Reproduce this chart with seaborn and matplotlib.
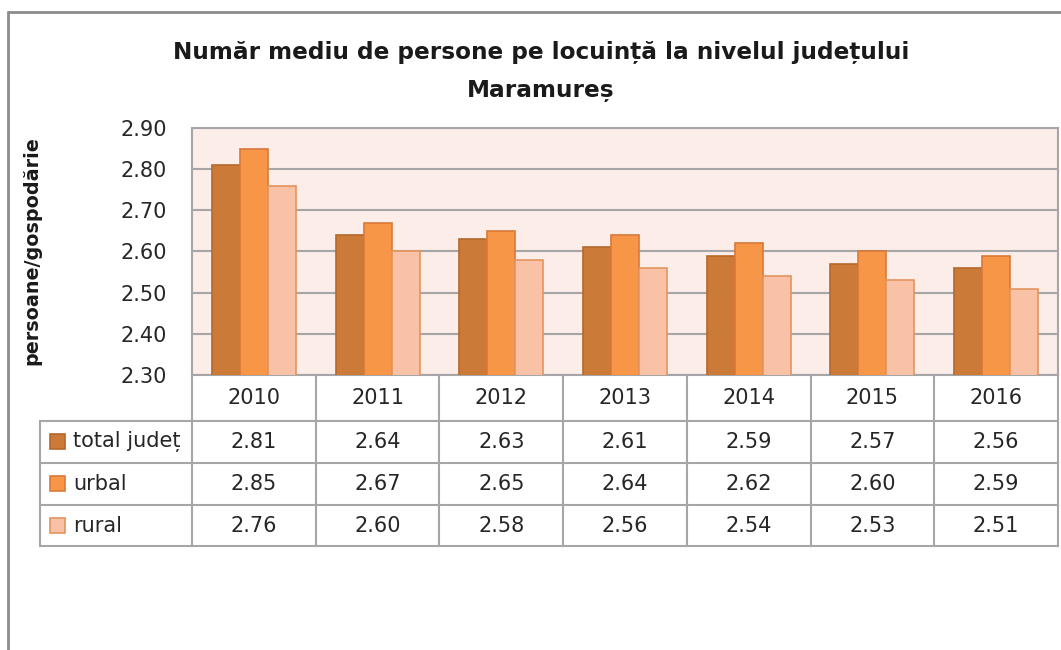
import numpy as np
import pandas as pd
import seaborn as sns
import matplotlib.pyplot as plt
import matplotlib.transforms as mtransforms
from matplotlib.patches import Rectangle

sns.set_theme(style="white")
plt.rcParams['font.family'] = ['DejaVu Sans']

ani = ['2010', '2011', '2012', '2013', '2014', '2015', '2016']
serii = ['total județ', 'urbal', 'rural']
total_judet = [2.81, 2.64, 2.63, 2.61, 2.59, 2.57, 2.56]
urbal = [2.85, 2.67, 2.65, 2.64, 2.62, 2.60, 2.59]
rural = [2.76, 2.60, 2.58, 2.56, 2.54, 2.53, 2.51]

culori = ['#CB7A37', '#F79646', '#F9C1A5']
margini = ['#B5682C', '#D9793A', '#E3955F']

df = pd.DataFrame({
    'an': ani * 3,
    'serie': [s for s in serii for _ in ani],
    'valoare': total_judet + urbal + rural,
})

W, H = 1061, 650
fig = plt.figure(figsize=(W / 100, H / 100), dpi=100)
# zona graficului in pixeli: x 192..1058, y 128..375
ax = fig.add_axes([192 / W, 1 - 375 / H, (1058 - 192) / W, (375 - 128) / H])
ax.set_facecolor('#FCEDE8')

sns.barplot(data=df, x='an', y='valoare', hue='serie', palette=culori, saturation=1,
            width=0.68, gap=0, ax=ax, legend=False, zorder=3)
for i, cont in enumerate(ax.containers):
    for b in cont:
        b.set_edgecolor(margini[i])
        b.set_linewidth(1.2)

ax.set_ylim(2.30, 2.90)
ax.set_xlim(-0.5, len(ani) - 0.5)
ax.set_yticks(np.arange(2.30, 2.91, 0.10))
ax.set_yticklabels([f'{v:.2f}' for v in np.arange(2.30, 2.91, 0.10)], fontsize=15, color='#262626')
ax.tick_params(axis='y', length=0, pad=18)
ax.set_xticks([])
ax.set_xlabel('')
ax.set_ylabel('')
ax.grid(axis='y', color='#A6A6A6', linewidth=1.5, zorder=0)
ax.set_axisbelow(True)
for s in ax.spines.values():
    s.set_color('#A6A6A6')
    s.set_linewidth(1.5)

fig.text(32 / W, 1 - 251 / H, 'persoane/gospodărie', rotation=90, ha='center', va='center',
         fontsize=13.8, fontweight='bold', color='#1a1a1a')

fig.text(541 / W, 1 - 52 / H, 'Număr mediu de persone pe locuință la nivelul județului',
         ha='center', va='center', fontsize=16.7, fontweight='bold', color='#1a1a1a')
fig.text(541 / W, 1 - 90 / H, 'Maramureș', ha='center', va='center',
         fontsize=16.7, fontweight='bold', color='#1a1a1a')

# tabelul de date de sub grafic
tr = mtransforms.blended_transform_factory(ax.transData, fig.transFigure)
col_w = (1058 - 192) / len(ani)
x_left = -0.5 - (192 - 40) / col_w
rows_px = [375, 421, 463, 505, 546]
fy = lambda p: 1 - p / H
lc = '#A6A6A6'
for p in rows_px[1:]:
    ax.plot([x_left, len(ani) - 0.5], [fy(p), fy(p)], color=lc, lw=1.5,
            transform=tr, clip_on=False)
for k in range(len(ani) + 1):
    ax.plot([k - 0.5, k - 0.5], [fy(375), fy(546)], color=lc, lw=1.5,
            transform=tr, clip_on=False)
ax.plot([x_left, x_left], [fy(421), fy(546)], color=lc, lw=1.5, transform=tr, clip_on=False)

for k, an in enumerate(ani):
    ax.text(k, fy(398), an, ha='center', va='center', fontsize=15, color='#262626', transform=tr)

valori = [total_judet, urbal, rural]
for r, (nume, vals) in enumerate(zip(serii, valori)):
    yc = (rows_px[r + 1] + rows_px[r + 2]) / 2
    for k, v in enumerate(vals):
        ax.text(k, fy(yc), f'{v:.2f}', ha='center', va='center', fontsize=15,
                color='#262626', transform=tr)
    fig.patches.append(Rectangle((50 / W, fy(yc + 7)), 15 / W, 15 / H, facecolor=culori[r],
                                 edgecolor=margini[r], lw=1.2, transform=fig.transFigure))
    fig.text(73 / W, fy(yc), nume, ha='left', va='center', fontsize=15, color='#262626')

# rama exterioara (doar stanga si sus)
fig.add_artist(plt.Line2D([8 / W, 8 / W], [0, fy(12)], color='#8C8C8C', lw=2))
fig.add_artist(plt.Line2D([8 / W, 1], [fy(12), fy(12)], color='#8C8C8C', lw=2))

fig.savefig('out.png', dpi=100, facecolor='white')
